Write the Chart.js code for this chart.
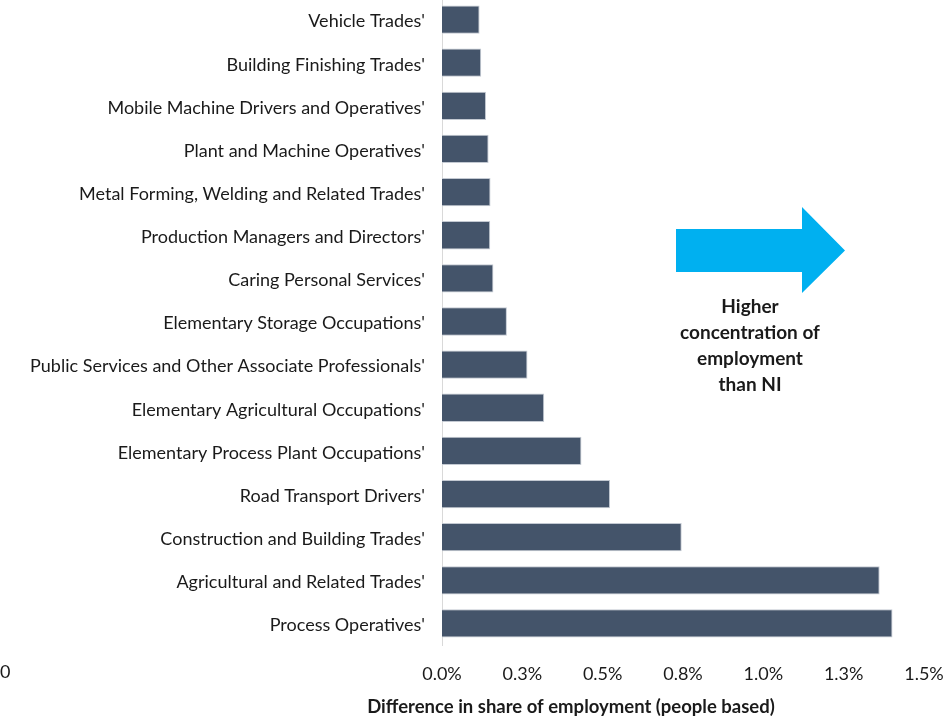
<!DOCTYPE html>
<html>
<head>
<meta charset="utf-8">
<script src="https://cdn.jsdelivr.net/npm/chart.js@4"></script>
<style>
    html, body { margin: 0; padding: 0; background: #fff; overflow: hidden; }
    #wrap { position: absolute; left: 0; top: -2px; width: 951px; height: 718px; }
</style>
</head>
<body>
<div id="wrap"><canvas id="skillsChart"></canvas></div>
<script>
const categories = [
    "Vehicle Trades'",
    "Building Finishing Trades'",
    "Mobile Machine Drivers and Operatives'",
    "Plant and Machine Operatives'",
    "Metal Forming, Welding and Related Trades'",
    "Production Managers and Directors'",
    "Caring Personal Services'",
    "Elementary Storage Occupations'",
    "Public Services and Other Associate Professionals'",
    "Elementary Agricultural Occupations'",
    "Elementary Process Plant Occupations'",
    "Road Transport Drivers'",
    "Construction and Building Trades'",
    "Agricultural and Related Trades'",
    "Process Operatives'"
];
// difference in share of employment, percentage points
const shareDiff = [0.117, 0.122, 0.137, 0.145, 0.151, 0.150, 0.160, 0.202, 0.266, 0.318, 0.434, 0.523, 0.746, 1.362, 1.402];
const tickLabels = ['0.0%', '0.3%', '0.5%', '0.8%', '1.0%', '1.3%', '1.5%'];
const axisTitle = 'Difference in share of employment (people based)';
const noteLines = ['Higher', 'concentration of', 'employment', 'than NI'];

const textColor = '#1a1a1a';
const labelFont = { family: 'Lato', size: 18 };

// arrow, note text, axis title and the stray "0" label
const extrasPlugin = {
    id: 'extras',
    afterDraw(chart) {
        const ctx = chart.ctx;
        ctx.save();
        // arrow
        ctx.fillStyle = '#00B0F0';
        ctx.beginPath();
        ctx.moveTo(676, 231);
        ctx.lineTo(802, 231);
        ctx.lineTo(802, 209);
        ctx.lineTo(845, 252.5);
        ctx.lineTo(802, 295);
        ctx.lineTo(802, 274);
        ctx.lineTo(676, 274);
        ctx.closePath();
        ctx.fill();

        ctx.fillStyle = textColor;
        ctx.textAlign = 'center';
        ctx.textBaseline = 'middle';
        ctx.font = 'bold 19px Lato';
        noteLines.forEach((line, i) => ctx.fillText(line, 750, 309 + i * 26));

        ctx.font = 'bold 18.5px Lato';
        ctx.fillText(axisTitle, 571, 709);

        ctx.textAlign = 'left';
        ctx.font = '18px Lato';
        ctx.fillText('0', 0, 674);
        ctx.restore();
    }
};

const ctx = document.getElementById('skillsChart').getContext('2d');
new Chart(ctx, {
    type: 'bar',
    data: {
        labels: categories,
        datasets: [{
            data: shareDiff,
            backgroundColor: '#44546A',
            borderColor: '#C3C9D2',
            borderWidth: 1,
            barPercentage: 0.656,
            categoryPercentage: 1
        }]
    },
    options: {
        indexAxis: 'y',
        responsive: true,
        maintainAspectRatio: false,
        animation: false,
        layout: { padding: { top: 0, right: 27, bottom: 0, left: 0 } },
        plugins: {
            legend: { display: false },
            tooltip: { enabled: false }
        },
        scales: {
            x: {
                min: 0,
                max: 1.5,
                ticks: {
                    stepSize: 0.25,
                    color: textColor,
                    font: labelFont,
                    padding: 18,
                    maxRotation: 0,
                    callback: (v, i) => tickLabels[i]
                },
                grid: { display: false, drawTicks: false },
                border: { display: false },
                afterFit: scale => {
                    scale.height = 71;
                    scale.paddingLeft = 0;
                    scale.paddingRight = 0;
                }
            },
            y: {
                ticks: {
                    color: textColor,
                    font: labelFont,
                    padding: 17,
                    labelOffset: 2,
                    autoSkip: false
                },
                grid: { display: false, drawTicks: false },
                border: { display: true, color: '#D9D9D9', width: 1 },
                afterFit: scale => {
                    scale.width = 442;
                    scale.paddingTop = 0;
                    scale.paddingBottom = 0;
                }
            }
        }
    },
    plugins: [extrasPlugin]
});
</script>
</body>
</html>
